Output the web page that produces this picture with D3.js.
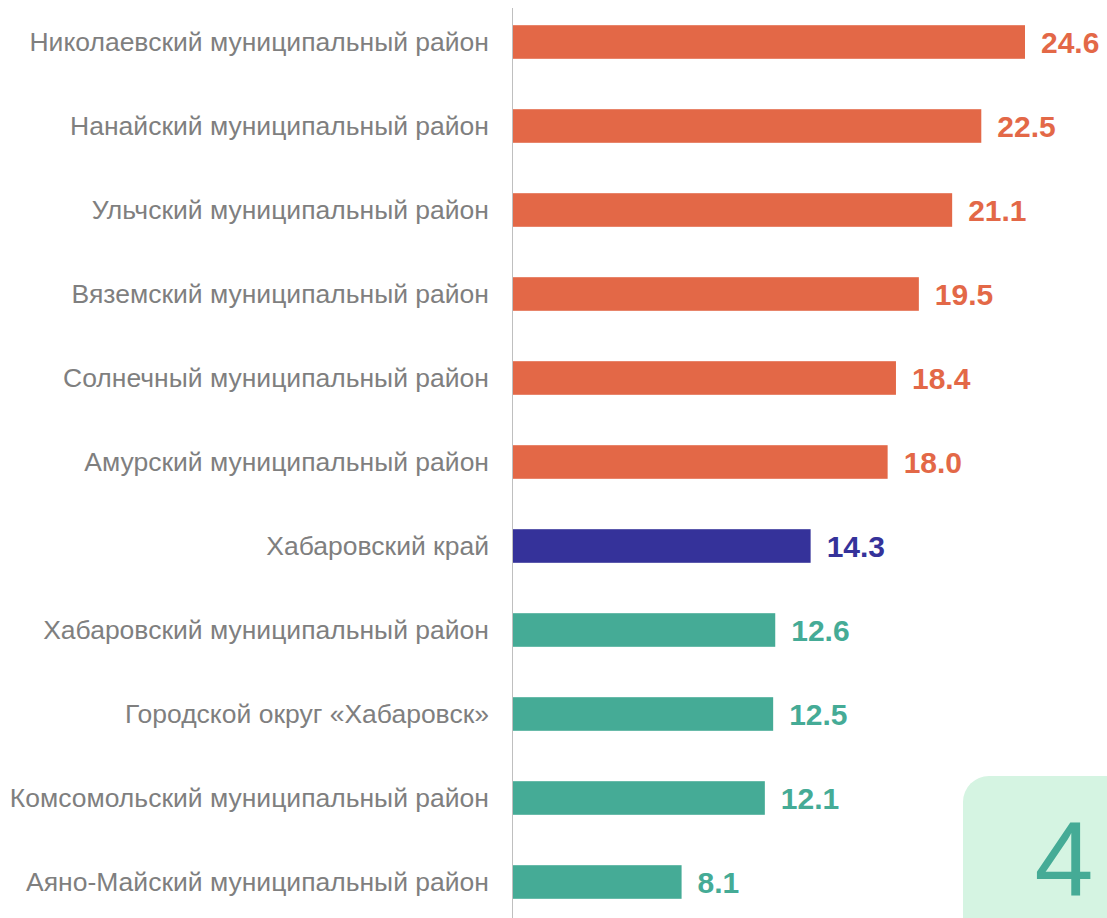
<!DOCTYPE html>
<html>
<head>
<meta charset="utf-8">
<script src="https://cdn.jsdelivr.net/npm/d3@7"></script>
<style>
  body { margin: 0; background: #fff; }
  svg { display: block; }
</style>
</head>
<body>
<svg id="chart" width="1107" height="918"></svg>
<script>
// data, top to bottom
const regions = [
  "Николаевский муниципальный район",
  "Нанайский муниципальный район",
  "Ульчский муниципальный район",
  "Вяземский муниципальный район",
  "Солнечный муниципальный район",
  "Амурский муниципальный район",
  "Хабаровский край",
  "Хабаровский муниципальный район",
  "Городской округ «Хабаровск»",
  "Комсомольский муниципальный район",
  "Аяно-Майский муниципальный район"
]
const values = [24.6, 22.5, 21.1, 19.5, 18.4, 18.0, 14.3, 12.6, 12.5, 12.1, 8.1]
// group: above region average / region itself / below
const groups = ["high", "high", "high", "high", "high", "high", "total", "low", "low", "low", "low"]
const badge = "4"

const colors = { high: "#E36847", total: "#35329A", low: "#45AB96" }

const svg = d3.select("#chart")
const width = 1107, height = 918
const font = "'Liberation Sans', Arial, sans-serif"

const rows = regions.map((r, i) => ({ name: r, value: values[i], group: groups[i] }))

const x = d3.scaleLinear().domain([0, 24.6]).range([513, 1025])
const y = d3.scaleBand()
  .domain(regions)
  .range([0, 924])
  .paddingInner(0.6)
  .paddingOuter(0.3)

// badge box in the corner
svg.append("rect")
  .attr("x", 963)
  .attr("y", 776)
  .attr("width", 200)
  .attr("height", 200)
  .attr("rx", 26)
  .attr("fill", "#D5F4E2")

svg.append("text")
  .attr("x", 1064)
  .attr("y", 896)
  .attr("text-anchor", "middle")
  .attr("font-family", font)
  .attr("font-size", 106)
  .attr("fill", "#45AB96")
  .text(badge)

// vertical axis line
svg.append("line")
  .attr("x1", 512.5).attr("x2", 512.5)
  .attr("y1", 8).attr("y2", height)
  .attr("stroke", "#BFBFBF")
  .attr("stroke-width", 1)

svg.selectAll(".bar")
  .data(rows)
  .enter()
  .append("rect")
  .attr("class", "bar")
  .attr("x", x(0))
  .attr("y", d => y(d.name))
  .attr("width", d => x(d.value) - x(0))
  .attr("height", y.bandwidth())
  .attr("fill", d => colors[d.group])

// category labels
svg.selectAll(".label")
  .data(rows)
  .enter()
  .append("text")
  .attr("class", "label")
  .attr("x", 489)
  .attr("y", d => y(d.name) + y.bandwidth() / 2)
  .attr("dy", "0.35em")
  .attr("text-anchor", "end")
  .attr("font-family", font)
  .attr("font-size", 26.5)
  .attr("fill", "#7F7F7F")
  .text(d => d.name)

// value labels
svg.selectAll(".val")
  .data(rows)
  .enter()
  .append("text")
  .attr("class", "val")
  .attr("x", d => x(d.value) + 16)
  .attr("y", d => y(d.name) + y.bandwidth() / 2)
  .attr("dy", "0.36em")
  .attr("font-family", font)
  .attr("font-weight", "bold")
  .attr("font-size", 30)
  .attr("fill", d => colors[d.group])
  .text(d => d.value.toFixed(1))
</script>
</body>
</html>
